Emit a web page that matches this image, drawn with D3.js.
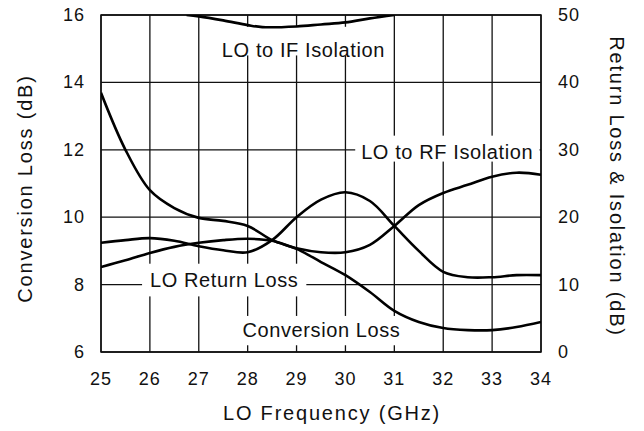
<!DOCTYPE html>
<html>
<head>
<meta charset="utf-8">
<script src="https://cdn.jsdelivr.net/npm/d3@7"></script>
<style>
  body { margin: 0; background: #fff; }
  text { font-family: "Liberation Sans", Arial, Helvetica, sans-serif; fill: #111; }
  .tick-label { font-size: 18px; letter-spacing: 1px; }
  .axis-title { font-size: 20px; letter-spacing: 1.8px; }
  .curve-label { font-size: 20px; letter-spacing: 0.6px; }
</style>
</head>
<body>
<div id="chart"></div>
<script>
// data
var freq = [25, 25.5, 26, 26.5, 27, 27.5, 28, 28.5, 29, 29.5, 30, 30.5, 31, 31.5, 32, 32.5, 33, 33.5, 34];
// left axis (dB)
var conversionLoss = [13.69, 12.0, 10.8, 10.27, 9.98, 9.89, 9.74, 9.32, 9.06, 8.67, 8.28, 7.78, 7.22, 6.89, 6.71, 6.65, 6.65, 6.74, 6.89];
// right axis (dB)
var loReturnLoss = [16.2, 16.6, 16.9, 16.5, 15.7, 15.1, 14.8, 16.6, 20.0, 22.6, 23.7, 22.4, 18.7, 15.0, 11.9, 11.1, 11.1, 11.4, 11.4];
var loRfIsolation = [12.6, 13.6, 14.7, 15.6, 16.2, 16.6, 16.8, 16.5, 15.4, 14.8, 14.8, 15.9, 18.7, 21.8, 23.6, 24.8, 26.0, 26.6, 26.3];
var ifFreq = [26.75, 27, 27.5, 28, 28.3, 29, 29.5, 30, 30.5, 31];
var loIfIsolation = [50.0, 49.8, 49.2, 48.5, 48.2, 48.3, 48.6, 48.9, 49.5, 50.0];

var xTicks = [25, 26, 27, 28, 29, 30, 31, 32, 33, 34];
var leftTicks = [6, 8, 10, 12, 14, 16];
var rightTicks = [0, 10, 20, 30, 40, 50];

var svgWidth = 644;
var svgHeight = 431;
var margin = {top: 15, right: 103, bottom: 79, left: 101};
var width = svgWidth - margin.left - margin.right;
var height = svgHeight - margin.top - margin.bottom;

var svg = d3.select("#chart")
  .append("svg")
  .attr("width", svgWidth)
  .attr("height", svgHeight);

var chartGroup = svg.append("g")
  .attr("transform", `translate(${margin.left}, ${margin.top})`);

// scales
var x = d3.scaleLinear().domain([25, 34]).range([0, width]);
var yLeft = d3.scaleLinear().domain([6, 16]).range([height, 0]);
var yRight = d3.scaleLinear().domain([0, 50]).range([height, 0]);

// grid
var grid = chartGroup.append("g").attr("stroke", "#111").attr("stroke-width", 1.3);
grid.selectAll(".vgrid")
  .data(xTicks)
  .enter()
  .append("line")
  .attr("x1", d => x(d)).attr("x2", d => x(d))
  .attr("y1", 0).attr("y2", height);
grid.selectAll(".hgrid")
  .data(leftTicks)
  .enter()
  .append("line")
  .attr("x1", 0).attr("x2", width)
  .attr("y1", d => yLeft(d)).attr("y2", d => yLeft(d));

// white boxes behind the curve labels (they break the grid)
var labels = [
  {text: "LO to IF Isolation", x: 29.14, y: 14.76, box: [27.2, 15.65, 30.85, 14.8]},
  {text: "LO to RF Isolation", x: 32.08, y: 11.72, box: [30.2, 12.42, 33.97, 11.65]},
  {text: "LO Return Loss", x: 27.52, y: 7.93, box: [25.84, 8.62, 29.2, 7.65]},
  {text: "Conversion Loss", x: 29.51, y: 6.44, box: [27.77, 7.07, 31.2, 6.2]}
];
chartGroup.selectAll(".label-box")
  .data(labels)
  .enter()
  .append("rect")
  .attr("x", d => x(d.box[0]))
  .attr("y", d => yLeft(d.box[1]))
  .attr("width", d => x(d.box[2]) - x(d.box[0]))
  .attr("height", d => yLeft(d.box[3]) - yLeft(d.box[1]))
  .attr("fill", "#fff");

// frame
chartGroup.append("rect")
  .attr("width", width).attr("height", height)
  .attr("fill", "none").attr("stroke", "#111").attr("stroke-width", 1.5);

// curves
chartGroup.append("clipPath").attr("id", "plot-clip")
  .append("rect").attr("width", width).attr("height", height);

var curves = chartGroup.append("g").attr("clip-path", "url(#plot-clip)");

function drawCurve(xs, ys, yScale) {
  var line = d3.line()
    .x((d, i) => x(xs[i]))
    .y(d => yScale(d))
    .curve(d3.curveCatmullRom.alpha(0.5));
  curves.append("path")
    .datum(ys)
    .attr("d", line)
    .attr("fill", "none")
    .attr("stroke", "#000")
    .attr("stroke-width", 2.6)
    .attr("stroke-linejoin", "round");
}
drawCurve(freq, conversionLoss, yLeft);
drawCurve(freq, loReturnLoss, yRight);
drawCurve(freq, loRfIsolation, yRight);
drawCurve(ifFreq, loIfIsolation, yRight);

// curve labels
chartGroup.selectAll(".curve-label")
  .data(labels)
  .enter()
  .append("text")
  .attr("class", "curve-label")
  .attr("x", d => x(d.x))
  .attr("y", d => yLeft(d.y))
  .attr("text-anchor", "middle")
  .text(d => d.text);

// tick labels
chartGroup.selectAll(".xtick")
  .data(xTicks)
  .enter()
  .append("text")
  .attr("class", "tick-label")
  .attr("x", d => x(d))
  .attr("y", height + 33)
  .attr("text-anchor", "middle")
  .text(d => d);

chartGroup.selectAll(".ltick")
  .data(leftTicks)
  .enter()
  .append("text")
  .attr("class", "tick-label")
  .attr("x", -16)
  .attr("y", d => yLeft(d) + 6)
  .attr("text-anchor", "end")
  .text(d => d);

chartGroup.selectAll(".rtick")
  .data(rightTicks)
  .enter()
  .append("text")
  .attr("class", "tick-label")
  .attr("x", width + 17)
  .attr("y", d => yRight(d) + 6)
  .attr("text-anchor", "start")
  .text(d => d);

// axis titles
chartGroup.append("text")
  .attr("class", "axis-title")
  .attr("x", width / 2 + 11)
  .attr("y", height + 68)
  .attr("text-anchor", "middle")
  .text("LO Frequency (GHz)");

chartGroup.append("text")
  .attr("class", "axis-title")
  .attr("transform", `translate(${-69}, ${height / 2 + 5}) rotate(-90)`)
  .attr("text-anchor", "middle")
  .text("Conversion Loss (dB)");

chartGroup.append("text")
  .attr("class", "axis-title")
  .attr("transform", `translate(${width + 69}, ${height / 2 + 3}) rotate(90)`)
  .attr("text-anchor", "middle")
  .text("Return Loss & Isolation (dB)");
</script>
</body>
</html>
